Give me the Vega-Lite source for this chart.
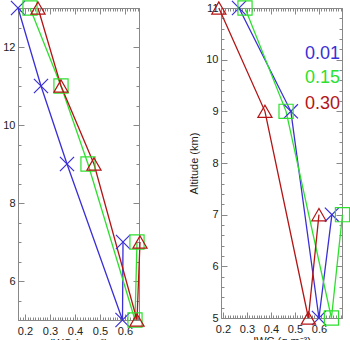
{
  "$schema": "https://vega.github.io/schema/vega-lite/v6.json",
  "padding": {"left": 2, "top": -17, "right": 0, "bottom": 0},
  "spacing": 82,
  "bounds": "flush",
  "config": {
    "font": "Liberation Sans",
    "view": {"stroke": "#888888", "strokeWidth": 1},
    "axis": {"domainColor": "#888888", "tickColor": "#888888", "labelColor": "#222222", "labelFontSize": 11, "grid": false, "titleFontSize": 11, "titleFontWeight": "normal", "titleColor": "#222222"}
  },
  "datasets": {
    "left": [
      {"series": "0.01", "alt": 13, "iwc": 0.172},
      {"series": "0.01", "alt": 11, "iwc": 0.264},
      {"series": "0.01", "alt": 9, "iwc": 0.368},
      {"series": "0.01", "alt": 7, "iwc": 0.592},
      {"series": "0.01", "alt": 5, "iwc": 0.59},
      {"series": "0.15", "alt": 13, "iwc": 0.22},
      {"series": "0.15", "alt": 11, "iwc": 0.344},
      {"series": "0.15", "alt": 9, "iwc": 0.452},
      {"series": "0.15", "alt": 7, "iwc": 0.648},
      {"series": "0.15", "alt": 5, "iwc": 0.64},
      {"series": "0.30", "alt": 13, "iwc": 0.252},
      {"series": "0.30", "alt": 11, "iwc": 0.344},
      {"series": "0.30", "alt": 9, "iwc": 0.476},
      {"series": "0.30", "alt": 7, "iwc": 0.66},
      {"series": "0.30", "alt": 5, "iwc": 0.648}
    ],
    "right": [
      {"series": "0.01", "alt": 11, "iwc": 0.267},
      {"series": "0.01", "alt": 9, "iwc": 0.483},
      {"series": "0.01", "alt": 7, "iwc": 0.654},
      {"series": "0.01", "alt": 5, "iwc": 0.6},
      {"series": "0.15", "alt": 11, "iwc": 0.292},
      {"series": "0.15", "alt": 9, "iwc": 0.463},
      {"series": "0.15", "alt": 7, "iwc": 0.698},
      {"series": "0.15", "alt": 5, "iwc": 0.652},
      {"series": "0.30", "alt": 11, "iwc": 0.183},
      {"series": "0.30", "alt": 9, "iwc": 0.375},
      {"series": "0.30", "alt": 7, "iwc": 0.6},
      {"series": "0.30", "alt": 5, "iwc": 0.556}
    ],
    "legend": [
      {"series": "0.01", "alt": 10.11},
      {"series": "0.15", "alt": 9.65},
      {"series": "0.30", "alt": 9.14}
    ]
  },
  "hconcat": [
    {
      "width": 121,
      "height": 312,
      "title": {"text": "Africa JJA", "fontSize": 11, "fontWeight": "normal", "color": "#222222", "anchor": "middle", "offset": 4},
      "layer": [
        {
          "data": {"name": "left"},
          "mark": {"type": "line", "strokeWidth": 1.3, "clip": false},
          "encoding": {
            "x": {"field": "iwc", "type": "quantitative", "scale": {"domain": [0.172, 0.656], "nice": false, "zero": false},
              "axis": {"title": "IWC (g m⁻³)", "values": [0.18,0.19,0.2,0.21,0.22,0.23,0.24,0.25,0.26,0.27,0.28,0.29,0.3,0.31,0.32,0.33,0.34,0.35,0.36,0.37,0.38,0.39,0.4,0.41,0.42,0.43,0.44,0.45,0.46,0.47,0.48,0.49,0.5,0.51,0.52,0.53,0.54,0.55,0.56,0.57,0.58,0.59,0.6,0.61,0.62,0.63,0.64,0.65],
                "labelExpr": "round(datum.value*100)%10==0 ? format(datum.value,'.1f') : ''",
                "tickSize": {"condition": {"test": "round(datum.value*100)%10==0", "value": -6}, "value": -3},
                "labelPadding": 11, "titlePadding": 1}},
            "y": {"field": "alt", "type": "quantitative", "scale": {"domain": [5, 13], "nice": false, "zero": false},
              "axis": {"title": null, "values": [5,5.5,6,6.5,7,7.5,8,8.5,9,9.5,10,10.5,11,11.5,12,12.5,13],
                "labelExpr": "datum.value%2==0 ? datum.value : ''",
                "tickSize": {"condition": {"test": "datum.value%2==0", "value": -6}, "value": -3},
                "labelPadding": 9}},
            "color": {"field": "series", "type": "nominal", "scale": {"domain": ["0.01","0.15","0.30"], "range": ["#3a2fd6", "#2ee02e", "#b41414"]}, "legend": null},
            "detail": {"field": "series"}
          }
        },
        {
          "data": {"name": "left"},
          "mark": {"type": "point", "filled": false, "size": 200, "strokeWidth": 1.2, "clip": false, "opacity": 1},
          "encoding": {
            "x": {"field": "iwc", "type": "quantitative", "axis": {"title": null, "labels": false, "values": [0.18,0.19,0.2,0.21,0.22,0.23,0.24,0.25,0.26,0.27,0.28,0.29,0.3,0.31,0.32,0.33,0.34,0.35,0.36,0.37,0.38,0.39,0.4,0.41,0.42,0.43,0.44,0.45,0.46,0.47,0.48,0.49,0.5,0.51,0.52,0.53,0.54,0.55,0.56,0.57,0.58,0.59,0.6,0.61,0.62,0.63,0.64,0.65],
                "tickSize": {"condition": {"test": "round(datum.value*100)%10==0", "value": -6}, "value": -3}, "orient": "top"}},
            "y": {"field": "alt", "type": "quantitative", "axis": {"title": null, "labels": false, "values": [5,5.5,6,6.5,7,7.5,8,8.5,9,9.5,10,10.5,11,11.5,12,12.5,13],
                "tickSize": {"condition": {"test": "datum.value%2==0", "value": -6}, "value": -3}, "orient": "right"}},
            "color": {"field": "series", "type": "nominal", "legend": null},
            "shape": {"field": "series", "type": "nominal", "scale": {"domain": ["0.01","0.15","0.30"], "range": ["M-1,-1L1,1M-1,1L1,-1", "square", "triangle-up"]}, "legend": null}
          }
        }
      ],
      "resolve": {"axis": {"x": "independent", "y": "independent"}}
    },
    {
      "width": 121,
      "height": 310,
      "title": {"text": "W Pacific Dec", "fontSize": 11, "fontWeight": "normal", "color": "#222222", "anchor": "middle", "offset": 4},
      "layer": [
        {
          "data": {"name": "right"},
          "mark": {"type": "line", "strokeWidth": 1.3, "clip": false},
          "encoding": {
            "x": {"field": "iwc", "type": "quantitative", "scale": {"domain": [0.192, 0.696], "nice": false, "zero": false},
              "axis": {"title": "IWC (g m⁻³)", "values": [0.2,0.21,0.22,0.23,0.24,0.25,0.26,0.27,0.28,0.29,0.3,0.31,0.32,0.33,0.34,0.35,0.36,0.37,0.38,0.39,0.4,0.41,0.42,0.43,0.44,0.45,0.46,0.47,0.48,0.49,0.5,0.51,0.52,0.53,0.54,0.55,0.56,0.57,0.58,0.59,0.6,0.61,0.62,0.63,0.64,0.65,0.66,0.67,0.68,0.69],
                "labelExpr": "round(datum.value*100)%10==0 ? format(datum.value,'.1f') : ''",
                "tickSize": {"condition": {"test": "round(datum.value*100)%10==0", "value": -6}, "value": -3},
                "labelPadding": 11, "titlePadding": 1}},
            "y": {"field": "alt", "type": "quantitative", "scale": {"domain": [5, 11], "nice": false, "zero": false},
              "axis": {"title": "Altitude (km)", "values": [5,5.2,5.4,5.6,5.8,6,6.2,6.4,6.6,6.8,7,7.2,7.4,7.6,7.8,8,8.2,8.4,8.6,8.8,9,9.2,9.4,9.6,9.8,10,10.2,10.4,10.6,10.8,11],
                "labelExpr": "round(datum.value*10)%10==0 ? datum.value : ''",
                "tickSize": {"condition": {"test": "round(datum.value*10)%10==0", "value": -6}, "value": -3},
                "labelPadding": 9, "titlePadding": 6}},
            "color": {"field": "series", "type": "nominal", "scale": {"domain": ["0.01","0.15","0.30"], "range": ["#3a2fd6", "#2ee02e", "#b41414"]}, "legend": null},
            "detail": {"field": "series"}
          }
        },
        {
          "data": {"name": "right"},
          "mark": {"type": "point", "filled": false, "size": 200, "strokeWidth": 1.2, "clip": false, "opacity": 1},
          "encoding": {
            "x": {"field": "iwc", "type": "quantitative", "axis": {"title": null, "labels": false, "values": [0.2,0.21,0.22,0.23,0.24,0.25,0.26,0.27,0.28,0.29,0.3,0.31,0.32,0.33,0.34,0.35,0.36,0.37,0.38,0.39,0.4,0.41,0.42,0.43,0.44,0.45,0.46,0.47,0.48,0.49,0.5,0.51,0.52,0.53,0.54,0.55,0.56,0.57,0.58,0.59,0.6,0.61,0.62,0.63,0.64,0.65,0.66,0.67,0.68,0.69],
                "tickSize": {"condition": {"test": "round(datum.value*100)%10==0", "value": -6}, "value": -3}, "orient": "top"}},
            "y": {"field": "alt", "type": "quantitative", "axis": {"title": null, "labels": false, "values": [5,5.2,5.4,5.6,5.8,6,6.2,6.4,6.6,6.8,7,7.2,7.4,7.6,7.8,8,8.2,8.4,8.6,8.8,9,9.2,9.4,9.6,9.8,10,10.2,10.4,10.6,10.8,11],
                "tickSize": {"condition": {"test": "round(datum.value*10)%10==0", "value": -6}, "value": -3}, "orient": "right"}},
            "color": {"field": "series", "type": "nominal", "legend": null},
            "shape": {"field": "series", "type": "nominal", "scale": {"domain": ["0.01","0.15","0.30"], "range": ["M-1,-1L1,1M-1,1L1,-1", "square", "triangle-up"]}, "legend": null}
          }
        },
        {
          "data": {"name": "legend"},
          "mark": {"type": "text", "align": "right", "baseline": "middle", "fontSize": 18, "dx": 119, "x": 0},
          "encoding": {
            "y": {"field": "alt", "type": "quantitative", "axis": null},
            "text": {"field": "series"},
            "color": {"field": "series", "type": "nominal", "legend": null}
          }
        }
      ],
      "resolve": {"axis": {"x": "independent", "y": "independent"}}
    }
  ]
}
